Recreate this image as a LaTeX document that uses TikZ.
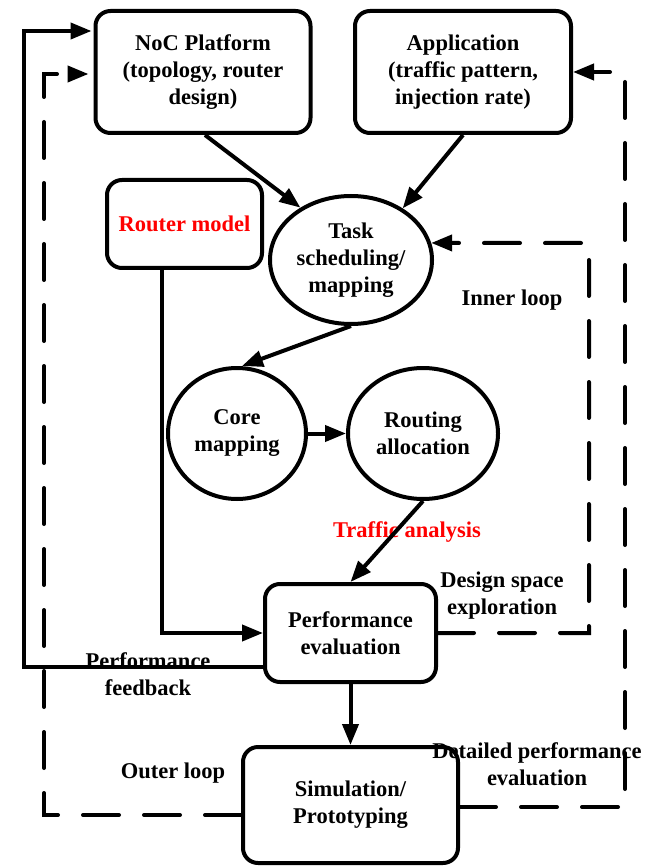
\documentclass[tikz,border=0pt]{standalone}
\usepackage{fontspec}
\setmainfont{Liberation Serif}
\usetikzlibrary{shapes.geometric,arrows.meta}
\begin{document}
\begin{tikzpicture}[x=1pt,y=-1pt,
  every node/.style={font=\fontsize{22.5}{27}\selectfont\bfseries, align=center, inner sep=0pt},
  boxnode/.style={draw, line width=4pt, rounded corners=15pt, rectangle},
  ovalnode/.style={draw, line width=4pt, ellipse},
  label/.style={},
  redlabel/.style={text=red},
  arr/.style={line width=4pt, -{Triangle[length=21pt,width=16pt]}},
  dasharr/.style={arr, dash pattern=on 36pt off 25pt, line cap=round},
  dashline/.style={line width=4pt, dash pattern=on 36pt off 25pt, line cap=round}]
\useasboundingbox (0,0) rectangle (646,866);

% main blocks
\node[boxnode, minimum width=215pt, minimum height=122pt] (noc) at (203,72)
  {NoC Platform\\(topology, router\\design)};
\node[boxnode, minimum width=216pt, minimum height=122pt] (app) at (463,72)
  {Application\\(traffic pattern,\\injection rate)};
\node[boxnode, minimum width=155pt, minimum height=88pt] (router) at (184.5,224)
  {\textcolor{red}{Router model}};
\node[ovalnode, minimum width=162pt, minimum height=128pt] (task) at (351,260)
  {Task\\scheduling/\\mapping};
\node[ovalnode, minimum width=138pt, minimum height=131pt] (core) at (237,433.5)
  {Core\\mapping};
\node[ovalnode, minimum width=150pt, minimum height=131pt] (routing) at (423,433.5)
  {Routing\\allocation};
\node[boxnode, minimum width=171pt, minimum height=98pt] (perf) at (350.5,633)
  {Performance\\evaluation};
\node[boxnode, minimum width=215pt, minimum height=116pt] (sim) at (350.5,805)
  {Simulation/\\Prototyping};

% free labels
\node[label] (inner) at (512,300) {Inner loop};
\node[redlabel] (traffic) at (407,532) {Traffic analysis};
\node[label] (dse) at (502,596) {Design space\\exploration};
\node[label] (pfb) at (148,674) {Performance\\feedback};
\node[label] (outer) at (173,773) {Outer loop};
\node[label] (dpe) at (537,764) {Detailed performance\\evaluation};

% bends of the loop connectors
\coordinate (fbcorner) at (24,31);
\coordinate (olcorner) at (44,74);
\coordinate (ilcorner) at (589,243);
\coordinate (orcorner) at (625,72);
\coordinate (rmcorner) at (162,633);

% forward flow
\draw[arr] ([xshift=2pt]noc.south) -- (task.134);
\draw[arr] (app.south) -- (task.45);
\draw[arr] (task.south) -- ([xshift=5pt]core.north);
\draw[arr] (core.east) -- (routing.west);
\draw[arr] (routing.south) -- (perf.north);
\draw[arr] (perf.south) -- (sim.north);
\draw[arr] ([xshift=-22.5pt]router.south) -- (rmcorner) -- (perf.west);

% performance feedback (solid)
\draw[arr, shorten >=2pt] ([yshift=-34pt]perf.west) -| (fbcorner) -- ([yshift=41pt]noc.west);

% inner loop (dashed)
\draw[dasharr] (perf.east) -| (ilcorner) -- (task.12);

% outer loop (dashed)
\draw[dasharr, shorten >=5pt] ([yshift=-10pt]sim.west) -| (olcorner) -- ([yshift=-2pt]noc.west);
\draw[dasharr] ([yshift=-2pt]sim.east) -| (orcorner) -- (app.east);
\end{tikzpicture}
\end{document}
